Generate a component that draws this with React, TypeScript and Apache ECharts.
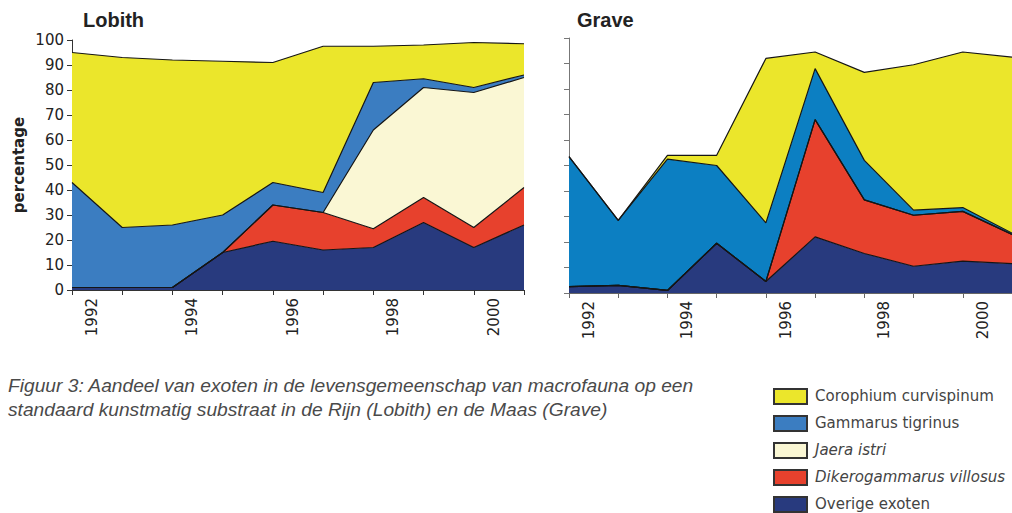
import React, { useEffect, useRef } from 'react';
import * as echarts from 'echarts';

const years = ['1992', '1993', '1994', '1995', '1996', '1997', '1998', '1999', '2000', '2001'];

// Lobith (values per group, stacked bottom-up)
const lobithOverige = [1, 1, 1, 15, 19.5, 16, 17, 27, 17, 26];
const lobithDikero = [0, 0, 0, 0, 14.5, 15, 7.5, 10, 8, 15];
const lobithJaera = [0, 0, 0, 0, 0, 0, 39.5, 44, 54, 44];
const lobithGammarus = [42, 24, 25, 15, 9, 8, 19, 3.5, 2, 1];
const lobithCorophium = [52, 68, 66, 61.5, 48, 58.5, 14.5, 13.5, 18, 12.5];

// Grave
const graveOverige = [2.5, 3, 1, 19.5, 4.5, 22, 15.5, 10.5, 12.5, 11.5];
const graveDikero = [0, 0, 0, 0, 0, 46, 21, 20, 19.5, 11.5];
const graveJaera = [0, 0, 0, 0, 0, 0, 0, 0, 0, 0];
const graveGammarus = [51, 25.5, 51.5, 30.5, 23, 20, 15.5, 2, 1.5, 0.5];
const graveCorophium = [0, 0, 1.5, 4, 64.5, 6.5, 34.5, 57, 61, 69];

const speciesNames = [
  'Overige exoten',
  'Dikerogammarus villosus',
  'Jaera istri',
  'Gammarus tigrinus',
  'Corophium curvispinum',
];

const legendNames = [
  'Corophium curvispinum',
  'Gammarus tigrinus',
  'Jaera istri',
  'Dikerogammarus villosus',
  'Overige exoten',
];
const legendItalic = [false, false, true, true, false];

const captionLines = [
  'Figuur 3: Aandeel van exoten in de levensgemeenschap van macrofauna op een',
  'standaard kunstmatig substraat in de Rijn (Lobith) en de Maas (Grave)',
];

const COLORS: Record<string, string> = {
  'Overige exoten': '#283a7e',
  'Dikerogammarus villosus': '#e7412d',
  'Jaera istri': '#faf7d4',
  'Gammarus tigrinus': '#3b7dc1',
  'Corophium curvispinum': '#ebe62b',
};
const GRAVE_BLUE = '#0c7fc2';

const FONT = '"Liberation Sans", Arial, sans-serif';
const WIDE = '"DejaVu Sans", sans-serif';

export default function App() {
  const ref = useRef<HTMLDivElement>(null);

  useEffect(() => {
    if (!ref.current) return;
    const chart = echarts.init(ref.current, null, { renderer: 'svg' });

    const lobithData = [lobithOverige, lobithDikero, lobithJaera, lobithGammarus, lobithCorophium];
    const graveData = [graveOverige, graveDikero, graveJaera, graveGammarus, graveCorophium];

    const mk = (name: string, data: number[], idx: number, color: string) => ({
      name,
      type: 'line',
      xAxisIndex: idx,
      yAxisIndex: idx,
      stack: idx === 0 ? 'lobith' : 'grave',
      data,
      symbol: 'none',
      showSymbol: false,
      smooth: false,
      lineStyle: { color: '#151515', width: 1.2 },
      itemStyle: { color },
      areaStyle: { color, opacity: 1 },
      emphasis: { disabled: true },
    });

    const series: any[] = [];
    speciesNames.forEach((n, i) => series.push(mk(n, lobithData[i], 0, COLORS[n])));
    speciesNames.forEach((n, i) =>
      series.push(mk(n, graveData[i], 1, n === 'Gammarus tigrinus' ? GRAVE_BLUE : COLORS[n]))
    );

    const xAxisBase = (gridIndex: number, lineColor: string) => ({
      gridIndex,
      type: 'category',
      boundaryGap: false,
      data: years,
      axisLine: { show: true, lineStyle: { color: lineColor, width: 1 } },
      axisTick: { show: true, interval: 0, length: 5, lineStyle: { color: lineColor } },
      axisLabel: {
        interval: 1,
        rotate: 90,
        margin: 8,
        fontSize: 15,
        color: '#222',
        fontFamily: WIDE,
        verticalAlign: 'top',
        lineHeight: 40,
      },
      splitLine: { show: false },
    });

    const legendGraphics: any[] = [];
    legendNames.forEach((n, i) => {
      const y = 388 + i * 27;
      legendGraphics.push({
        type: 'rect',
        left: 773,
        top: y,
        shape: { width: 33, height: 15 },
        style: { fill: COLORS[n], stroke: '#333', lineWidth: 2 },
      });
      legendGraphics.push({
        type: 'text',
        left: 815,
        top: y,
        style: {
          text: n,
          fill: '#444',
          font: `${legendItalic[i] ? 'italic ' : ''}15px "DejaVu Sans", sans-serif`,
        },
      });
    });

    const captionGraphics = captionLines.map((t, i) => ({
      type: 'text',
      left: 8,
      top: 376 + i * 24,
      style: {
        text: t,
        fill: '#4a4a4a',
        font: 'italic 19.2px "Liberation Sans", Arial, sans-serif',
      },
    }));

    chart.setOption({
      animation: false,
      backgroundColor: '#ffffff',
      title: [
        {
          text: 'Lobith',
          left: 83,
          top: 10,
          padding: 0,
          textStyle: { fontSize: 20, fontWeight: 'bold', color: '#222', fontFamily: FONT },
        },
        {
          text: 'Grave',
          left: 577,
          top: 10,
          padding: 0,
          textStyle: { fontSize: 20, fontWeight: 'bold', color: '#222', fontFamily: FONT },
        },
      ],
      grid: [
        { left: 72, top: 40, width: 452, height: 250 },
        { left: 569, top: 38, width: 443, height: 255 },
      ],
      xAxis: [xAxisBase(0, '#333'), xAxisBase(1, '#666')],
      yAxis: [
        {
          gridIndex: 0,
          type: 'value',
          min: 0,
          max: 100,
          interval: 10,
          splitLine: { show: false },
          axisLine: { show: true, lineStyle: { color: '#333' } },
          axisTick: { show: true, length: 5, lineStyle: { color: '#333' } },
          axisLabel: { fontSize: 15, color: '#222', fontFamily: WIDE, margin: 8 },
          name: 'percentage',
          nameLocation: 'middle',
          nameRotate: 90,
          nameGap: 46,
          nameTextStyle: { fontSize: 15, fontWeight: 'bold', color: '#222', fontFamily: WIDE },
        },
        {
          gridIndex: 1,
          type: 'value',
          min: 0,
          max: 100,
          interval: 10,
          splitLine: { show: false },
          axisLine: { show: true, lineStyle: { color: '#777' } },
          axisTick: { show: true, length: 5, lineStyle: { color: '#777' } },
          axisLabel: { show: false },
        },
      ],
      series,
      graphic: [...captionGraphics, ...legendGraphics],
    });

    return () => chart.dispose();
  }, []);

  return (
    <div
      ref={ref}
      style={{ position: 'absolute', left: 0, top: 0, width: 1012, height: 513 }}
    />
  );
}
